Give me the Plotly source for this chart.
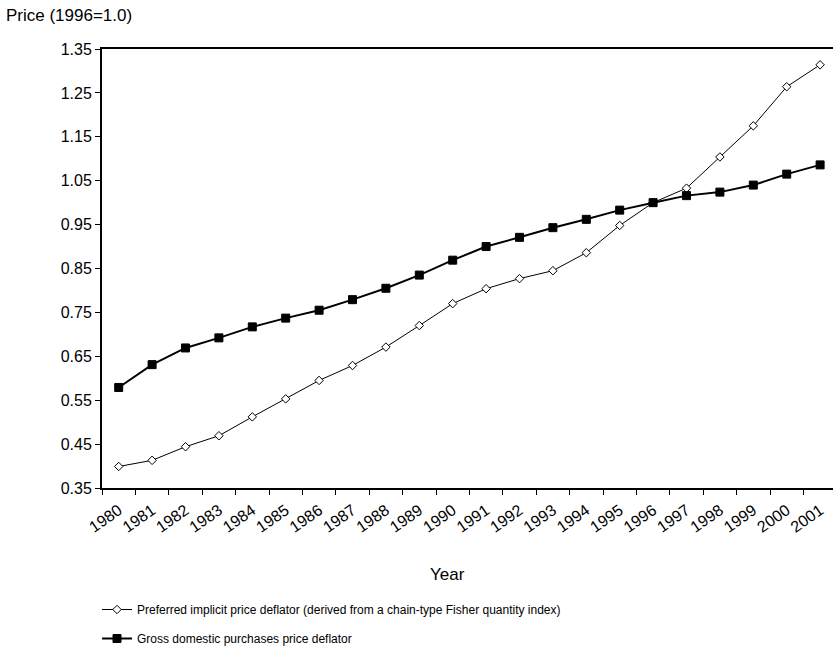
import plotly.graph_objects as go

years = [str(y) for y in range(1980, 2002)]
preferred = [0.399, 0.413, 0.444, 0.469, 0.512, 0.553, 0.595, 0.629, 0.671, 0.720,
             0.770, 0.804, 0.827, 0.845, 0.886, 0.948, 1.000, 1.033, 1.104, 1.175,
             1.264, 1.314]
gross = [0.579, 0.631, 0.669, 0.692, 0.717, 0.737, 0.755, 0.779, 0.805, 0.835,
         0.869, 0.900, 0.921, 0.943, 0.962, 0.983, 1.000, 1.016, 1.024, 1.040,
         1.065, 1.086]
yticks = [0.35, 0.45, 0.55, 0.65, 0.75, 0.85, 0.95, 1.05, 1.15, 1.25, 1.35]

FONT = "Liberation Sans, Arial, sans-serif"
W, H = 833, 656
L, R, T, B = 102, 0, 49, 168
pw, ph = W - L - R, H - T - B

fig = go.Figure()
fig.add_trace(go.Scatter(
    x=years, y=preferred, mode="lines+markers",
    name="Preferred implicit price deflator (derived from a chain-type Fisher quantity index)",
    line=dict(color="black", width=1),
    marker=dict(symbol="diamond", size=6.5, color="white", line=dict(color="black", width=1)),
    legendgroup="a"))
fig.add_trace(go.Scatter(
    x=years, y=gross, mode="lines+markers",
    name="Gross domestic purchases price deflator",
    line=dict(color="black", width=2),
    marker=dict(symbol="square", size=8, color="black", line=dict(color="black", width=1)),
    legendgroup="b"))

fig.update_layout(
    width=W, height=H,
    margin=dict(l=L, r=R, t=T, b=B, autoexpand=False),
    paper_bgcolor="white", plot_bgcolor="white",
    font=dict(family=FONT, size=16, color="black"),
    showlegend=True,
    legend=dict(x=(97 - L) / pw, y=(488 - 595) / ph, xanchor="left", yanchor="top",
                orientation="v", font=dict(size=12), tracegroupgap=10,
                bgcolor="rgba(0,0,0,0)"),
    xaxis=dict(type="category", range=[-0.5, (W - L) / 33.4 - 0.5],
               showline=True, linecolor="black", linewidth=2, mirror=True,
               ticks="outside", ticklen=5, tickcolor="black", tickwidth=1,
               tickson="boundaries", tickangle=-35, showgrid=False,
               tickfont=dict(size=16), zeroline=False, automargin=False,
               ticklabelstandoff=5),
    yaxis=dict(range=[0.35, 1.35], tickvals=yticks,
               ticktext=[f"{v:.2f}" for v in yticks],
               showline=True, linecolor="black", linewidth=2,
               ticks="outside", ticklen=5, tickcolor="black", tickwidth=1,
               showgrid=False, zeroline=False, tickfont=dict(size=16),
               automargin=False),
    annotations=[
        dict(text="Price (1996=1.0)", xref="paper", yref="paper",
             x=(4 - L) / pw, y=(488 - 15) / ph, xanchor="left", yanchor="middle",
             showarrow=False, font=dict(size=17)),
        dict(text="Year", xref="paper", yref="paper",
             x=(447 - L) / pw, y=(488 - 574) / ph, xanchor="center", yanchor="middle",
             showarrow=False, font=dict(size=17)),
    ],
)

fig.write_html("out.html", config={"displayModeBar": False},
               post_script="document.body.style.margin='0';")
